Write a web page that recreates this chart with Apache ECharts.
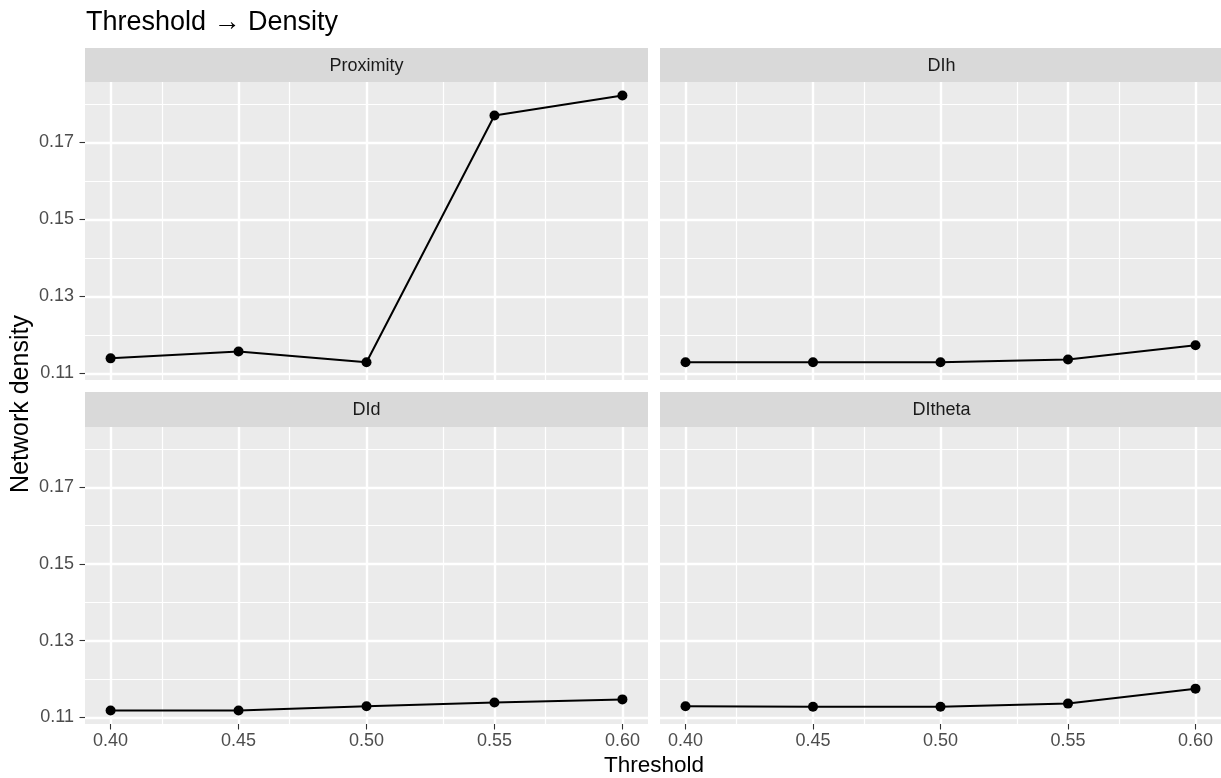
<!DOCTYPE html>
<html>
<head>
<meta charset="utf-8">
<script src="https://cdn.jsdelivr.net/npm/echarts@6/dist/echarts.min.js"></script>
<style>
html,body{margin:0;padding:0;background:#fff;}
#chart{width:1221px;height:778px;}
</style>
</head>
<body>
<div id="chart"></div>
<script>
// ---- data ----
const thresholds = [0.40, 0.45, 0.50, 0.55, 0.60];
const proximity = [0.1139, 0.1157, 0.1129, 0.1770, 0.1822];
const dih = [0.1129, 0.1129, 0.1129, 0.1136, 0.1173];
const did = [0.1118, 0.1118, 0.1129, 0.1139, 0.1147];
const ditheta = [0.1129, 0.1128, 0.1128, 0.1136, 0.1175];
const panelNames = ['Proximity', 'DIh', 'DId', 'DItheta'];
const xTicks = [0.40, 0.45, 0.50, 0.55, 0.60];
const xMinor = [0.425, 0.475, 0.525, 0.575];
const yTicks = [0.11, 0.13, 0.15, 0.17];
const yMinor = [0.12, 0.14, 0.16, 0.18];
const titleText = 'Threshold \u2192 Density';
const xTitle = 'Threshold';
const yTitle = 'Network density';

const panelValues = [proximity, dih, did, ditheta];

// ---- layout ----
const FONT = '"Liberation Sans", Arial, Helvetica, sans-serif';
const grids = [
  {left: 85, top: 82, width: 563, height: 298},
  {left: 660, top: 82, width: 563, height: 298},
  {left: 85, top: 427, width: 563, height: 297},
  {left: 660, top: 427, width: 563, height: 297}
];
const strips = [
  {x: 85, y: 48, w: 563, h: 34},
  {x: 660, y: 48, w: 563, h: 34},
  {x: 85, y: 392, w: 563, h: 35},
  {x: 660, y: 392, w: 563, h: 35}
];

// shared scales (ggplot-like 5% expansion)
const allVals = [].concat(...panelValues);
const yLo = Math.min(...allVals), yHi = Math.max(...allVals);
const yPad = 0.05 * (yHi - yLo);
const yMin = yLo - yPad, yMax = yHi + yPad;
const xLo = Math.min(...thresholds), xHi = Math.max(...thresholds);
const xPad = 0.05 * (xHi - xLo);
const xMin = xLo - xPad, xMax = xHi + xPad;

const MAJOR_W = 2.4, MINOR_W = 1.2;

const xAxes = [], yAxes = [], series = [], gridOpts = [];
grids.forEach((g, i) => {
  gridOpts.push(Object.assign({show: true, backgroundColor: '#EBEBEB', borderWidth: 0, containLabel: false}, g));
  const bottomRow = i >= 2, leftCol = i % 2 === 0;
  xAxes.push({
    type: 'value', gridIndex: i, min: xMin, max: xMax,
    axisLine: {show: false},
    splitLine: {show: false},
    axisTick: {show: bottomRow, customValues: xTicks, length: 5.5, lineStyle: {color: '#333333', width: 1.1}},
    axisLabel: {show: bottomRow, customValues: xTicks, margin: 8, color: '#4D4D4D', fontSize: 18, fontFamily: FONT,
      formatter: v => Number(v).toFixed(2)}
  });
  yAxes.push({
    type: 'value', gridIndex: i, min: yMin, max: yMax,
    axisLine: {show: false},
    splitLine: {show: false},
    axisTick: {show: leftCol, customValues: yTicks, length: 5.5, lineStyle: {color: '#333333', width: 1.1}},
    axisLabel: {show: leftCol, customValues: yTicks, margin: 11, color: '#4D4D4D', fontSize: 18, fontFamily: FONT,
      formatter: v => Number(v).toFixed(2)}
  });
  const pts = thresholds.map((t, j) => [t, panelValues[i][j]]);
  const mlData = []
    .concat(xMinor.map(v => ({xAxis: v, lineStyle: {color: '#FFFFFF', width: MINOR_W, type: 'solid'}})))
    .concat(yMinor.map(v => ({yAxis: v, lineStyle: {color: '#FFFFFF', width: MINOR_W, type: 'solid'}})))
    .concat(xTicks.map(v => ({xAxis: v, lineStyle: {color: '#FFFFFF', width: MAJOR_W, type: 'solid'}})))
    .concat(yTicks.map(v => ({yAxis: v, lineStyle: {color: '#FFFFFF', width: MAJOR_W, type: 'solid'}})));
  series.push({
    type: 'line', xAxisIndex: i, yAxisIndex: i, data: pts, symbol: 'none',
    lineStyle: {opacity: 0}, silent: true, z: 1, animation: false,
    markLine: {silent: true, z: 1, zlevel: 0, symbol: ['none', 'none'], label: {show: false}, animation: false,
      emphasis: {disabled: true}, data: mlData}
  });
  series.push({
    name: panelNames[i], type: 'line', xAxisIndex: i, yAxisIndex: i, data: pts,
    symbol: 'circle', symbolSize: 10, showSymbol: true,
    itemStyle: {color: '#000000'}, lineStyle: {color: '#000000', width: 2},
    z: 10, animation: false
  });
});

const graphics = [];
strips.forEach((s, i) => {
  graphics.push({type: 'rect', shape: {x: s.x, y: s.y, width: s.w, height: s.h}, style: {fill: '#D9D9D9'}, silent: true});
  graphics.push({type: 'text', x: s.x + s.w / 2, y: s.y + s.h / 2 + 1,
    style: {text: panelNames[i], fill: '#1A1A1A', font: '18px ' + FONT, textAlign: 'center', textVerticalAlign: 'middle'}, silent: true});
});
graphics.push({type: 'text', x: 86, y: 23,
  style: {text: titleText, fill: '#000000', font: '27px ' + FONT, textAlign: 'left', textVerticalAlign: 'middle'}});
graphics.push({type: 'text', x: 654, y: 766,
  style: {text: xTitle, fill: '#000000', font: '22.5px ' + FONT, textAlign: 'center', textVerticalAlign: 'middle'}});
graphics.push({type: 'text', x: 21, y: 404, rotation: Math.PI / 2,
  style: {text: yTitle, fill: '#000000', font: '25px ' + FONT, textAlign: 'center', textVerticalAlign: 'middle'}});

const chart = echarts.init(document.getElementById('chart'), null, {renderer: 'canvas'});
chart.setOption({
  backgroundColor: '#FFFFFF',
  animation: false,
  grid: gridOpts,
  xAxis: xAxes,
  yAxis: yAxes,
  series: series,
  graphic: graphics
});
</script>
</body>
</html>
